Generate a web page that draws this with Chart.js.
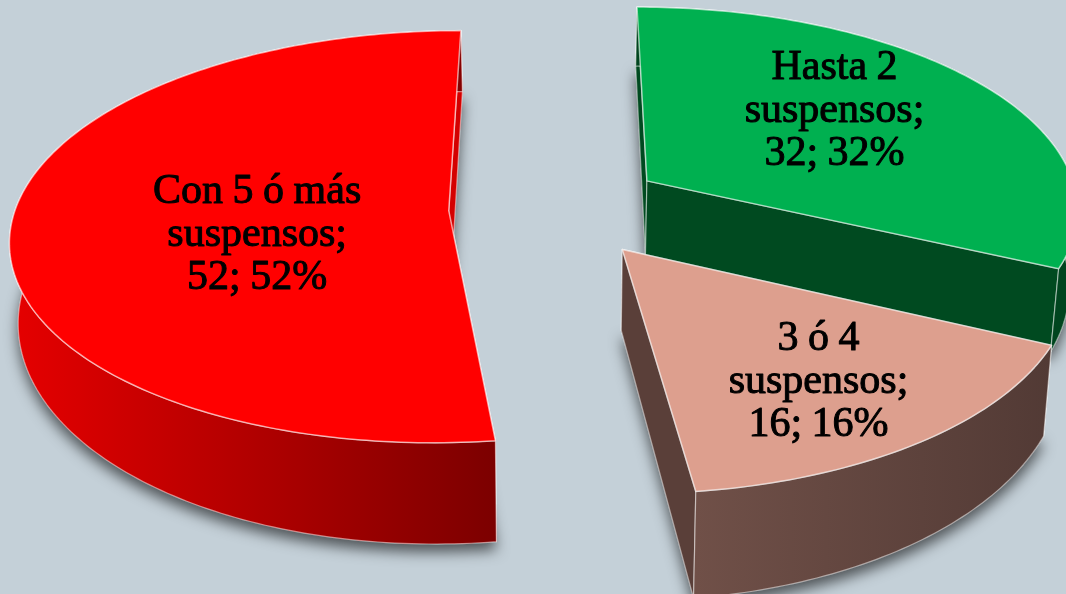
<!DOCTYPE html>
<html>
<head>
<meta charset="utf-8">
<style>
html,body{margin:0;padding:0;background:#c4d0d8;overflow:hidden}
#wrap{width:1066px;height:594px;position:relative}
</style>
<script src="https://cdn.jsdelivr.net/npm/chart.js@4"></script>
</head>
<body>
<div id="wrap"><canvas id="c" width="1066" height="594"></canvas></div>
<script>
const categories = ['Hasta 2 suspensos', '3 ó 4 suspensos', 'Con 5 ó más suspensos'];
const values = [32, 16, 52];
const labelLines = [['Hasta 2', 'suspensos;'], ['3 ó 4', 'suspensos;'], ['Con 5 ó más', 'suspensos;']];
const topColors = ['#00b050', '#dd9f8e', '#ff0000'];

const wallStyles = [
  { radial: '#004a20', outer: ['#00451f', '#00451f'] },
  { radial: '#5a3f39', outer: ['#705048', '#523a35'] },
  { radial: '#d40000', outer: ['#e60000', '#7c0000'] }
];
const labelPlace = [{ f: .55, dy: -14 }, { f: .68, dy: 7 }, { f: .44, dy: 19 }];

// projective view of the pie's plane
const view = { cx: 557, cy: 207.5, ax: 433, by: 202, p: .126, depth: 77, conv: .016 };
const FONT = '42px "Liberation Serif"';
const LINE = 43;

function project(u, v) {
  const w = 1 - view.p * v;
  return { x: view.cx + u * view.ax / w, y: view.cy + v * view.by / w, w };
}
function drop(pt) {
  return { x: pt.x - (pt.x - view.cx) * view.conv, y: pt.y + view.depth / (pt.w * pt.w) };
}
function pathOf(ctx, pts) {
  ctx.beginPath();
  pts.forEach((q, i) => i ? ctx.lineTo(q.x, q.y) : ctx.moveTo(q.x, q.y));
  ctx.closePath();
}
function sliceGeometry(arc) {
  const R = arc.outerRadius;
  const d = arc.options.offset / R;
  const mid = (arc.startAngle + arc.endAngle) / 2;
  const u0 = d * Math.cos(mid), v0 = d * Math.sin(mid);
  const apex = project(u0, v0);
  const rim = [];
  const n = Math.ceil((arc.endAngle - arc.startAngle) / (Math.PI / 180));
  for (let i = 0; i <= n; i++) {
    const a = arc.startAngle + (arc.endAngle - arc.startAngle) * i / n;
    rim.push(project(u0 + Math.cos(a), v0 + Math.sin(a)));
  }
  return { apex, rim, u0, v0, mid };
}

const pie3d = {
  id: 'pie3d',
  beforeDatasetDraw(chart) {
    const ctx = chart.ctx;
    const arcs = chart.getDatasetMeta(0).data;
    const total = values.reduce((a, b) => a + b, 0);
    const edge = 'rgba(255,255,255,.5)';
    arcs.forEach((arc, i) => {
      const g = sliceGeometry(arc);
      const rimB = g.rim.map(drop);
      const apexB = drop(g.apex);
      const last = g.rim.length - 1;

      // cast shadow of the solid
      ctx.save();
      ctx.shadowColor = 'rgba(0,0,0,.6)';
      ctx.shadowBlur = 14;
      ctx.shadowOffsetY = 8;
      ctx.fillStyle = wallStyles[i].radial;
      pathOf(ctx, [apexB, ...rimB]);
      ctx.fill();
      ctx.restore();

      // radial walls
      ctx.lineWidth = 1.2;
      ctx.strokeStyle = edge;
      ctx.lineJoin = 'round';
      [[g.rim[0], rimB[0]], [g.rim[last], rimB[last]]].forEach(([a, b]) => {
        ctx.fillStyle = wallStyles[i].radial;
        pathOf(ctx, [g.apex, a, b, apexB]);
        ctx.fill();
        ctx.stroke();
      });

      // outer wall
      const front = g.rim.filter(q => q.y >= g.apex.y);
      const fx = front.map(q => q.x);
      const grad = ctx.createLinearGradient(Math.min(...fx), 0, Math.max(...fx), 0);
      grad.addColorStop(0, wallStyles[i].outer[0]);
      grad.addColorStop(1, wallStyles[i].outer[1]);
      ctx.fillStyle = grad;
      pathOf(ctx, [...g.rim, ...rimB.slice().reverse()]);
      ctx.fill();
      ctx.stroke();

      // top face
      ctx.fillStyle = topColors[i];
      pathOf(ctx, [g.apex, ...g.rim]);
      ctx.fill();
      ctx.strokeStyle = 'rgba(255,255,255,.6)';
      ctx.lineWidth = 1.5;
      ctx.stroke();
    });

    // data labels
    ctx.fillStyle = '#000';
    ctx.strokeStyle = '#000';
    ctx.lineWidth = 1;
    ctx.font = FONT;
    ctx.wordSpacing = '-1px';
    ctx.textAlign = 'center';
    ctx.textBaseline = 'middle';
    arcs.forEach((arc, i) => {
      const g = sliceGeometry(arc);
      const f = labelPlace[i].f;
      const c = project(g.u0 + f * Math.cos(g.mid), g.v0 + f * Math.sin(g.mid));
      const pct = Math.round(values[i] / total * 100);
      const lines = [...labelLines[i], values[i] + '; ' + pct + '%'];
      lines.forEach((t, k) => {
        const y = c.y + labelPlace[i].dy + (k - 1) * LINE;
        ctx.fillText(t, c.x, y);
        ctx.strokeText(t, c.x, y);
      });
    });
    return false;
  }
};

new Chart(document.getElementById('c'), {
  type: 'pie',
  data: {
    labels: categories,
    datasets: [{ data: values, backgroundColor: topColors, offset: 66, borderWidth: 0 }]
  },
  options: {
    responsive: false,
    animation: false,
    rotation: 0,
    layout: { padding: 0 },
    plugins: { legend: { display: false }, tooltip: { enabled: false } }
  },
  plugins: [pie3d]
});
</script>
</body>
</html>
